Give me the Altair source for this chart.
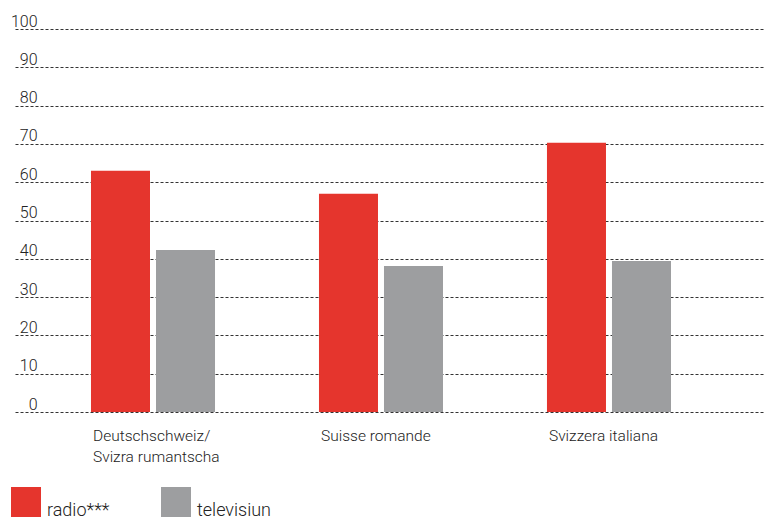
import altair as alt
import pandas as pd

regions = ["Deutschschweiz/\nSvizra rumantscha", "Suisse romande", "Svizzera italiana"]
series = ["radio***", "televisiun"]
radio = [63.0, 57.0, 70.3]
televisiun = [42.3, 38.1, 39.4]
colors = ["#e5352d", "#9d9ea0"]
y_ticks = [0, 10, 20, 30, 40, 50, 60, 70, 80, 90, 100]

rows = []
for i, r in enumerate(regions):
    rows.append({"region": r, "medium": series[0], "value": radio[i]})
    rows.append({"region": r, "medium": series[1], "value": televisiun[i]})
df = pd.DataFrame(rows)

FONT = "Roboto"

chart = alt.Chart(df).mark_bar().encode(
    x=alt.X(
        "region:N", sort=regions,
        scale=alt.Scale(paddingInner=0.456, paddingOuter=0.3728, align=0.447),
        axis=alt.Axis(
            title=None, labelAngle=0, labelAlign="left", labelBaseline="top",
            labelOffset=-60, labelPadding=16, ticks=False, tickSize=0, domain=False,
            labelExpr="split(datum.label, '\\n')", labelLineHeight=21,
            labelFontSize=15.5, labelColor="#222222", labelFont=FONT,
            labelFontWeight=300, grid=False,
        ),
    ),
    xOffset=alt.XOffset("medium:N", sort=series,
                        scale=alt.Scale(paddingInner=0.0923, paddingOuter=0)),
    y=alt.Y(
        "value:Q", scale=alt.Scale(domain=[0, 100], nice=False),
        axis=alt.Axis(
            title=None, values=y_ticks, grid=True, gridDash=[3, 2],
            gridColor="#333333", gridWidth=1, domain=False, ticks=False, tickSize=0,
            labelAlign="right", labelPadding=-22, labelBaseline="alphabetic",
            labelOffset=-3, labelFontSize=16, labelColor="#222222", labelFont=FONT,
            labelFontWeight=300,
        ),
    ),
    color=alt.Color(
        "medium:N", sort=series,
        scale=alt.Scale(domain=series, range=colors),
        legend=alt.Legend(
            title=None, orient="none", legendX=-4, legendY=458,
            direction="horizontal", symbolType="square", symbolSize=900,
            symbolStrokeWidth=0, labelFontSize=18, labelBaseline="top",
            labelOffset=6, columnPadding=51, padding=0, labelFont=FONT,
            labelFontWeight=300, labelColor="#222222",
        ),
    ),
).properties(
    width=750, height=383, autosize="none",
    padding={"left": 7, "top": 21, "right": 0, "bottom": 109},
).configure_view(stroke=None)

chart.save("out.html", embed_options={"renderer": "svg", "actions": False})
